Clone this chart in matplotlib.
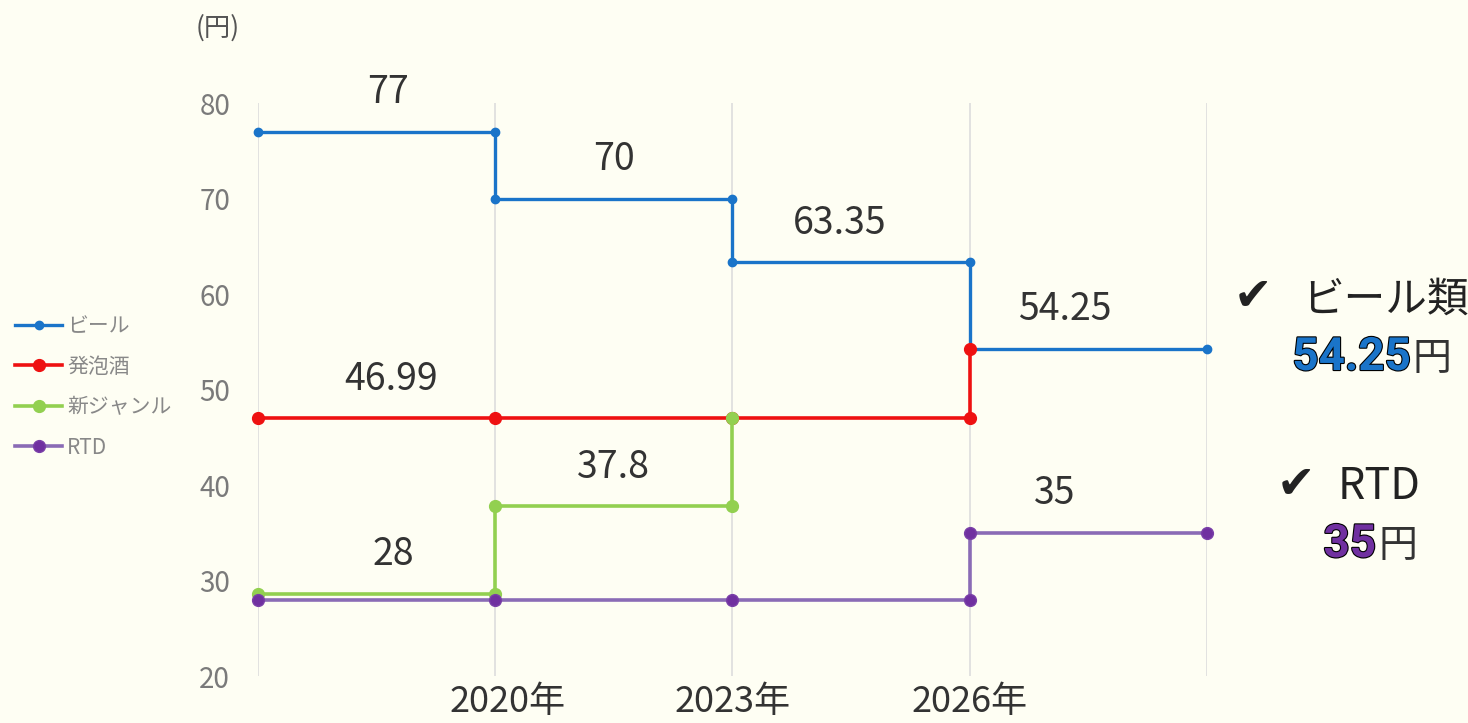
import matplotlib
matplotlib.use("Agg")
import matplotlib.pyplot as plt
import matplotlib.patheffects as pe
from matplotlib.transforms import ScaledTranslation

plt.rcParams['font.family'] = ['Noto Sans CJK JP', 'DejaVu Sans']

# data: x index 0..4 are period boundaries, ticks labelled at 1..3
tick_pos = [0, 1, 2, 3, 4]
tick_labels = ['', '2020年', '2023年', '2026年', '']

beer_x = [0, 1, 1, 2, 2, 3, 3, 4]
beer_y = [77, 77, 70, 70, 63.35, 63.35, 54.25, 54.25]

happo_x = [0, 1, 2, 3, 3]
happo_y = [46.99, 46.99, 46.99, 46.99, 54.25]

shin_x = [0, 1, 1, 2, 2]
shin_y = [28.6, 28.6, 37.8, 37.8, 46.99]

rtd_x = [0, 1, 2, 3, 3, 4]
rtd_y = [28, 28, 28, 28, 35, 35]

label_text = ['77', '70', '63.35', '54.25', '46.99', '37.8', '28', '35']
label_x = [0.55, 1.5, 2.45, 3.4, 0.56, 1.5, 0.57, 3.36]
label_y = [77, 70, 63.35, 54.25, 46.99, 37.8, 28.6, 35]

bg = '#fefef3'
fig = plt.figure(figsize=(14.68, 7.23), dpi=100, facecolor=bg)
ax = fig.add_axes([0.1757, 0.065, 0.6465, 0.7925], facecolor=bg)

ax.plot(beer_x, beer_y, color='#1a74c9', lw=2.4, marker='o', ms=6,
        label='ビール', zorder=3, clip_on=False)
ax.plot(happo_x, happo_y, color='#ee1111', lw=2.6, marker='o', ms=8.5,
        label='発泡酒', zorder=4, clip_on=False)
ax.plot(shin_x, shin_y, color='#92d050', lw=2.6, marker='o', ms=8.5,
        label='新ジャンル', zorder=5, clip_on=False)
ax.plot(rtd_x, rtd_y, color='#8a6bb5', lw=2.6, marker='o', ms=8.5,
        mfc='#7030a0', mec='#7a40a8', label='RTD', zorder=6, clip_on=False)

for t, x, y in zip(label_text, label_x, label_y):
    ax.annotate(t, (x, y), xytext=(0, 39), textcoords='offset pixels',
                ha='center', va='center', fontsize=27, color='#333333')

ax.set_xlim(0, 4)
ax.set_ylim(20, 80)
ax.set_xticks(tick_pos)
ax.set_xticklabels(tick_labels, fontsize=26, color='#333333')
ax.set_yticks(range(20, 81, 10))
ax.tick_params(axis='y', labelsize=20, labelcolor='#7a7a7a', length=0, pad=20)
ax.tick_params(axis='x', length=0, pad=6)
ax.grid(axis='x', color='#dddddd', lw=1.2)
ax.set_axisbelow(True)
for s in ax.spines.values():
    s.set_visible(False)
# the first year label sits a little right of its gridline in the original
lbl = ax.get_xticklabels()[1]
lbl.set_transform(lbl.get_transform() + ScaledTranslation(0.12, 0, fig.dpi_scale_trans))

fig.text(196 / 1468, 1 - 28 / 723, '(円)', fontsize=19, color='#555555',
         ha='left', va='center')

fig.legend(loc='upper left', bbox_to_anchor=(15 / 1468, 1 - 315 / 723),
           frameon=False, fontsize=15, labelcolor='#888888',
           handlelength=2.26, handletextpad=0.24, labelspacing=0.89,
           borderpad=0, borderaxespad=0)

# right-side callouts
outline = [pe.withStroke(linewidth=1.6, foreground='black')]
fig.text(1234 / 1468, 1 - 297 / 723, '✔', fontsize=33, family='DejaVu Sans',
         color='#222222', ha='left', va='center')
fig.text(1302 / 1468, 1 - 300 / 723, 'ビール類', fontsize=30,
         color='#222222', ha='left', va='center')
fig.text(1411 / 1468, 1 - 370 / 723, '54.25', fontsize=33, family='Roboto',
         weight='bold', color='#1a74c9', ha='right', va='baseline',
         path_effects=outline)
fig.text(1413 / 1468, 1 - 370 / 723, '円', fontsize=28, color='#333333',
         ha='left', va='baseline')

fig.text(1277 / 1468, 1 - 485 / 723, '✔', fontsize=33, family='DejaVu Sans',
         color='#222222', ha='left', va='center')
fig.text(1338 / 1468, 1 - 487 / 723, 'RTD', fontsize=31,
         color='#222222', ha='left', va='center')
fig.text(1376 / 1468, 1 - 557 / 723, '35', fontsize=33, family='Roboto',
         weight='bold', color='#7030a0', ha='right', va='baseline',
         path_effects=outline)
fig.text(1378 / 1468, 1 - 557 / 723, '円', fontsize=28, color='#333333',
         ha='left', va='baseline')

fig.savefig('out.png', dpi=100, facecolor=bg)
